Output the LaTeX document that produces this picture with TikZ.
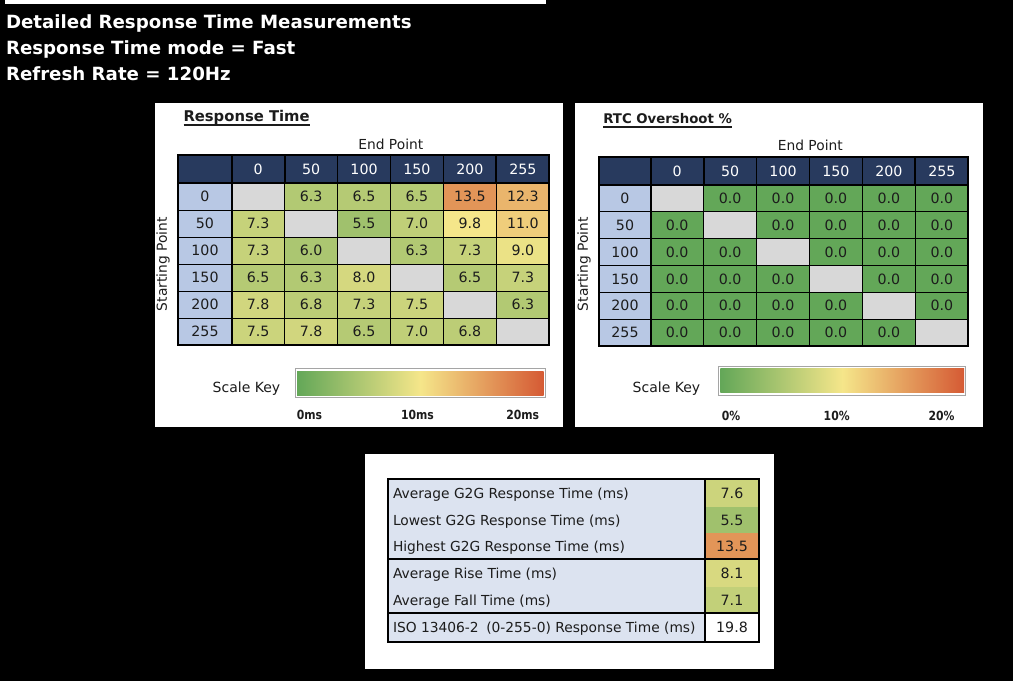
\documentclass[tikz,border=0pt]{standalone}
\usepackage{fontspec}
\setmainfont{DejaVu Sans}
\usepackage{graphicx}
\definecolor{cG}{RGB}{99,167,88}
\definecolor{cY}{RGB}{245,230,138}
\definecolor{cR}{RGB}{213,90,52}
\definecolor{hdr}{RGB}{40,58,94}
\definecolor{rowh}{RGB}{184,200,228}
\definecolor{gry}{RGB}{216,216,216}
\definecolor{lblc}{RGB}{220,227,240}
\definecolor{ink}{RGB}{28,28,28}
\definecolor{keyframe}{RGB}{165,165,165}
\tikzset{
  txt/.style={inner sep=0pt, outer sep=0pt, text=ink},
  cell/.style={draw=black, line width=0.9pt, inner sep=0pt, outer sep=0pt,
    text height=10.3pt, text depth=0pt, font=\fontsize{14.2}{16}\selectfont, text=ink},
  hcell/.style={cell, fill=hdr, text=white},
  rcell/.style={cell, fill=rowh},
  thickln/.style={line width=2pt, draw=black},
  headtxt/.style={txt, anchor=base west, text=white, font=\bfseries\fontsize{18.2}{20}\selectfont},
  ttl/.style={txt, anchor=base west, font=\bfseries\fontsize{14.8}{17}\selectfont},
  axlbl/.style={txt, font=\fontsize{13.8}{16}\selectfont},
  keylbl/.style={txt, anchor=base, font=\bfseries\fontsize{12.6}{14}\selectfont},
  keybar/.style={draw=keyframe, line width=1pt, fill=white, inner sep=0pt, outer sep=0pt},
  panel/.style={fill=white, inner sep=0pt, outer sep=0pt},
  blbl/.style={txt, anchor=base west, font=\fontsize{13.8}{16}\selectfont},
  bval/.style={inner sep=0pt, outer sep=0pt, text height=10.3pt, text depth=0pt,
    font=\fontsize{14.2}{16}\selectfont, text=ink, minimum width=54pt},
}
% frame of a matrix: #1 prefix, #2 x0, #3 first col width, #4 col width, #5 y0, #6 header height, #7 row height
\newcommand\mkframe[7]{%
  \foreach \c/\t in {0/{},1/0,2/50,3/100,4/150,5/200,6/255}{%
    \pgfmathsetmacro\cx{\c==0 ? #2+#3/2 : #2+#3+(\c-0.5)*#4}%
    \pgfmathsetmacro\cw{\c==0 ? #3 : #4}%
    \node[hcell, minimum width=\cw pt, minimum height=#6 pt] (#1-0-\c) at (\cx,#5+#6/2) {\t};
  }%
  \foreach \r/\t in {1/0,2/50,3/100,4/150,5/200,6/255}{%
    \pgfmathsetmacro\cy{#5+#6+(\r-0.5)*#7}%
    \node[rcell, minimum width=#3 pt, minimum height=#7 pt] (#1-\r-0) at (#2+#3/2,\cy) {\t};
  }%
}
% data cells: #1 prefix, #2 x1 (left of data), #3 col width, #4 y1 (top of data), #5 row height, #6 list
\newcommand\mkdata[6]{%
  \foreach \r/\c/\v/\col in {#6}{%
    \pgfmathsetmacro\cx{#2+(\c-0.5)*#3}%
    \pgfmathsetmacro\cy{#4+(\r-0.5)*#5}%
    \node[cell, fill=\col, minimum width=#3 pt, minimum height=#5 pt] (#1-\r-\c) at (\cx,\cy) {\v};
  }%
}
\newcommand\mkthick[1]{%
  \draw[thickln] (#1-0-0.north west) rectangle (#1-6-6.south east);
  \draw[thickln] (#1-0-0.south west) -- (#1-0-6.south east);
  \draw[thickln] (#1-0-0.north east) -- (#1-6-0.south east);
  \foreach \c in {1,...,5}{\draw[line width=1.8pt] (#1-0-\c.north east) -- (#1-0-\c.south east);}
}
\begin{document}
\begin{tikzpicture}[x=1pt,y=-1pt]
\useasboundingbox (0,0) rectangle (1013,681);
\fill[black] (0,0) rectangle (1013,681);
\fill[white] (5,0) rectangle (546,3.5);

% header text
\node[headtxt] (h1) at (6,28) {Detailed Response Time Measurements};
\node[headtxt] (h2) at (6,54) {Response Time mode = Fast};
\node[headtxt] (h3) at (6,80) {Refresh Rate = 120Hz};

% panels
\node[panel, minimum width=408pt, minimum height=324pt] (pL) at (359,265) {};
\node[panel, minimum width=408pt, minimum height=324pt] (pR) at (779,265) {};
\node[panel, minimum width=409pt, minimum height=215pt] (pB) at (569.5,561.5) {};

% ===== Response time table =====
\node[ttl] (tL) at (183.5,121.5) {Response Time};
\draw[line width=1.3pt, ink] ([yshift=-3.6pt]tL.base west) -- ([yshift=-3.6pt]tL.base east);
\node[axlbl, anchor=base] (eL) at (390.8,149.3) {End Point};
\node[axlbl, rotate=90] (sL) at (163,264.3) {Starting Point};
\mkframe{L}{178.3}{53.4}{52.93}{155}{28.3}{26.95}
\mkdata{L}{231.7}{52.93}{183.3}{26.95}{%
1/1//gry, 1/2/6.3/cY!54!cG, 1/3/6.5/cY!56!cG, 1/4/6.5/cY!56!cG, 1/5/13.5/cR!58!cY, 1/6/12.3/cR!35!cY,
2/1/7.3/cY!68!cG, 2/2//gry, 2/3/5.5/cY!42!cG, 2/4/7.0/cY!64!cG, 2/5/9.8/cY, 2/6/11.0/cR!18!cY,
3/1/7.3/cY!68!cG, 3/2/6.0/cY!49!cG, 3/3//gry, 3/4/6.3/cY!54!cG, 3/5/7.3/cY!68!cG, 3/6/9.0/cY!93!cG,
4/1/6.5/cY!56!cG, 4/2/6.3/cY!54!cG, 4/3/8.0/cY!78!cG, 4/4//gry, 4/5/6.5/cY!56!cG, 4/6/7.3/cY!68!cG,
5/1/7.8/cY!75!cG, 5/2/6.8/cY!61!cG, 5/3/7.3/cY!68!cG, 5/4/7.5/cY!71!cG, 5/5//gry, 5/6/6.3/cY!54!cG,
6/1/7.5/cY!71!cG, 6/2/7.8/cY!75!cG, 6/3/6.5/cY!56!cG, 6/4/7.0/cY!64!cG, 6/5/6.8/cY!61!cG, 6/6//gry}
\mkthick{L}

% scale key left
\node[axlbl, anchor=base west, font=\fontsize{14}{16}\selectfont] (kL) at (212.7,392.5) {Scale Key};
\node[keybar, minimum width=250pt, minimum height=29.4pt] (bL) at (420,383) {};
\shade[left color=cG, right color=cR, middle color=cY] ([shift={(2pt,-2.7pt)}]bL.north west) rectangle ([shift={(-1.5pt,2.7pt)}]bL.south east);
\node[keylbl] (kL0) at (309.5,419.3) {\scalebox{0.86}[1]{0ms}};
\node[keylbl] (kL1) at (417.5,419.3) {\scalebox{0.86}[1]{10ms}};
\node[keylbl] (kL2) at (522.7,419.3) {\scalebox{0.86}[1]{20ms}};

% ===== Overshoot table =====
\node[ttl, font=\bfseries\fontsize{13.3}{16}\selectfont] (tR) at (603.3,123.5) {RTC Overshoot \%};
\draw[line width=1.3pt, ink] ([yshift=-3.6pt]tR.base west) -- ([yshift=-3.6pt]tR.base east);
\node[axlbl, anchor=base] (eR) at (810.3,150.7) {End Point};
\node[axlbl, rotate=90] (sR) at (584,264.3) {Starting Point};
\mkframe{R}{599.3}{51.4}{52.93}{157.3}{27.7}{26.83}
\mkdata{R}{650.7}{52.93}{185}{26.83}{%
1/1//gry, 1/2/0.0/cG, 1/3/0.0/cG, 1/4/0.0/cG, 1/5/0.0/cG, 1/6/0.0/cG,
2/1/0.0/cG, 2/2//gry, 2/3/0.0/cG, 2/4/0.0/cG, 2/5/0.0/cG, 2/6/0.0/cG,
3/1/0.0/cG, 3/2/0.0/cG, 3/3//gry, 3/4/0.0/cG, 3/5/0.0/cG, 3/6/0.0/cG,
4/1/0.0/cG, 4/2/0.0/cG, 4/3/0.0/cG, 4/4//gry, 4/5/0.0/cG, 4/6/0.0/cG,
5/1/0.0/cG, 5/2/0.0/cG, 5/3/0.0/cG, 5/4/0.0/cG, 5/5//gry, 5/6/0.0/cG,
6/1/0.0/cG, 6/2/0.0/cG, 6/3/0.0/cG, 6/4/0.0/cG, 6/5/0.0/cG, 6/6//gry}
\mkthick{R}

% scale key right
\node[axlbl, anchor=base west, font=\fontsize{14}{16}\selectfont] (kR) at (632.7,392) {Scale Key};
\node[keybar, minimum width=247.4pt, minimum height=29pt] (bR) at (842,380.5) {};
\shade[left color=cG, right color=cR, middle color=cY] ([shift={(2pt,-2.7pt)}]bR.north west) rectangle ([shift={(-1.5pt,2.7pt)}]bR.south east);
\node[keylbl] (kR0) at (731,420) {\scalebox{0.86}[1]{0\%}};
\node[keylbl] (kR1) at (836.7,420) {\scalebox{0.86}[1]{10\%}};
\node[keylbl] (kR2) at (941.5,420) {\scalebox{0.86}[1]{20\%}};

% ===== Summary table =====
\node[fill=lblc, inner sep=0pt, outer sep=0pt, minimum width=317pt, minimum height=80pt] (g1) at (546.5,519.3) {};
\node[fill=lblc, inner sep=0pt, outer sep=0pt, minimum width=317pt, minimum height=54pt] (g2) at (546.5,586.3) {};
\node[fill=lblc, inner sep=0pt, outer sep=0pt, minimum width=317pt, minimum height=28.4pt] (g3) at (546.5,627.5) {};
\node[bval, fill=cY!72!cG, minimum height=27.4pt] (v1) at (732,493) {7.6};
\node[bval, fill=cY!42!cG, minimum height=26.6pt] (v2) at (732,520) {5.5};
\node[bval, fill=cR!58!cY, minimum height=26pt] (v3) at (732,546.3) {13.5};
\node[bval, fill=cY!80!cG, minimum height=27.4pt] (v4) at (732,573) {8.1};
\node[bval, fill=cY!65!cG, minimum height=26.6pt] (v5) at (732,600) {7.1};
\node[bval, fill=white, minimum height=28.4pt] (v6) at (732,627.5) {19.8};
\node[blbl] (l1) at (393,498) {Average G2G Response Time (ms)};
\node[blbl] (l2) at (393,525) {Lowest G2G Response Time (ms)};
\node[blbl] (l3) at (393,551.3) {Highest G2G Response Time (ms)};
\node[blbl] (l4) at (393,578) {Average Rise Time (ms)};
\node[blbl] (l5) at (393,605) {Average Fall Time (ms)};
\node[blbl] (l6) at (393,632.5) {ISO 13406-2\hspace{0.55em}(0-255-0) Response Time (ms)};
\draw[thickln] (g1.north west) rectangle (v6.south east);
\draw[thickln] (g1.south west) -- (v3.south east);
\draw[thickln] (g2.south west) -- (v5.south east);
\draw[thickln] (v1.north west) -- (v6.south west);
\end{tikzpicture}
\end{document}
